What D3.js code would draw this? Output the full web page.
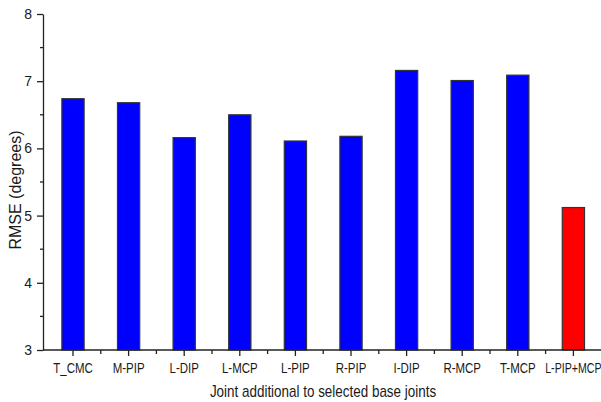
<!DOCTYPE html>
<html>
<head>
<meta charset="utf-8">
<script src="https://cdn.jsdelivr.net/npm/d3@7"></script>
<style>
  body { margin: 0; background: #fff; }
  svg text { font-family: "Liberation Sans", Arial, sans-serif; fill: #1a1a1a; }
  .axis path, .axis line { stroke: #222; stroke-width: 1.3; }
</style>
</head>
<body>
<svg class="chart"></svg>
<script>
var joints = ["T_CMC", "M-PIP", "L-DIP", "L-MCP", "L-PIP", "R-PIP", "I-DIP", "R-MCP", "T-MCP", "L-PIP+MCP"];
var rmse = [6.74, 6.68, 6.16, 6.50, 6.11, 6.18, 7.16, 7.01, 7.09, 5.12];
var barColors = ["#0000ff", "#0000ff", "#0000ff", "#0000ff", "#0000ff", "#0000ff", "#0000ff", "#0000ff", "#0000ff", "#ff0000"];
var yTicks = [3, 4, 5, 6, 7, 8];
var yMinorTicks = [3.5, 4.5, 5.5, 6.5, 7.5];

var width = 601, height = 402;
var plotLeft = 43, plotTop = 14, plotBottom = 350;

var svg = d3.select(".chart")
    .attr("width", width)
    .attr("height", height);

var x = d3.scaleBand()
    .domain(joints)
    .range([45.2, 601.2])
    .paddingInner(0.6)
    .paddingOuter(0.3);

var y = d3.scaleLinear()
    .domain([3, 8])
    .range([plotBottom, plotTop]);

// bars
svg.selectAll(".bar")
    .data(rmse)
    .enter().append("rect")
    .attr("class", "bar")
    .attr("x", function(d, i) { return x(joints[i]); })
    .attr("y", function(d) { return y(d); })
    .attr("width", x.bandwidth())
    .attr("height", function(d) { return y(3) - y(d); })
    .attr("fill", function(d, i) { return barColors[i]; })
    .attr("stroke", "#333")
    .attr("stroke-width", 1.2);

// x axis: major ticks at centres, minor ticks between groups
var xAxis = svg.append("g")
    .attr("class", "axis")
    .attr("transform", "translate(0," + plotBottom + ")")
    .call(d3.axisBottom(x).tickSize(6).tickPadding(7).tickSizeOuter(0));
xAxis.select(".domain").attr("d", "M" + plotLeft + ",0H" + width);
xAxis.selectAll("text")
    .attr("font-size", "14px")
    .attr("transform", function(d, i) { return i === joints.length - 1 ? "scale(0.76,1)" : "scale(0.82,1)"; });
var step = x.step();
var bounds = d3.range(1, joints.length).map(function(i) { return x.range()[0] + i * step; });
xAxis.selectAll(".minor")
    .data(bounds)
    .enter().append("line")
    .attr("class", "minor")
    .attr("x1", function(d) { return d; })
    .attr("x2", function(d) { return d; })
    .attr("y1", 0).attr("y2", 4);

// y axis
var yAxis = svg.append("g")
    .attr("class", "axis")
    .attr("transform", "translate(" + plotLeft + ",0)")
    .call(d3.axisLeft(y).tickValues(yTicks).tickFormat(d3.format("d")).tickSize(6).tickPadding(5).tickSizeOuter(0));
yAxis.selectAll("text").attr("font-size", "14px");
yAxis.selectAll(".minor")
    .data(yMinorTicks)
    .enter().append("line")
    .attr("class", "minor")
    .attr("x1", -3).attr("x2", 0)
    .attr("y1", function(d) { return y(d); })
    .attr("y2", function(d) { return y(d); });

// titles
svg.append("text")
    .attr("transform", "translate(323,397) scale(0.84,1)")
    .attr("text-anchor", "middle")
    .attr("font-size", "16px")
    .text("Joint additional to selected base joints");

svg.append("text")
    .attr("transform", "translate(21,190) rotate(-90)")
    .attr("text-anchor", "middle")
    .attr("font-size", "16px")
    .text("RMSE (degrees)");
</script>
</body>
</html>
